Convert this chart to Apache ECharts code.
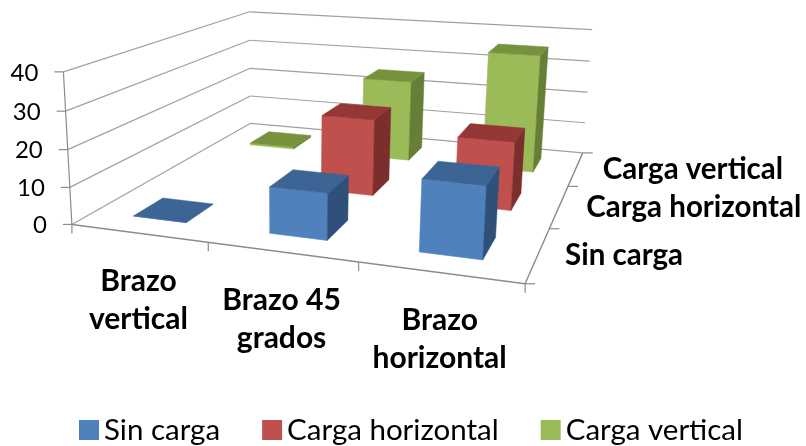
<!DOCTYPE html>
<html><head><meta charset="utf-8">
<style>html,body{margin:0;padding:0;background:#fff}#c{width:806px;height:446px}</style>
<script src="https://cdn.jsdelivr.net/npm/echarts@6/dist/echarts.min.js"></script>
</head><body><div id="c"></div>
<script>
const categories = ['Brazo\nvertical', 'Brazo 45\ngrados', 'Brazo\nhorizontal'];
const seriesNames = ['Sin carga', 'Carga horizontal', 'Carga vertical'];
const sinCarga = [0.1, 12.2, 18.3];
const cargaHorizontal = [null, 21.8, 19];
const cargaVertical = [0.6, 25, 35.6];
const yTicks = [0, 10, 20, 30, 40];
const yMax = 40;

// camera: fitted from reference anchor points [u, t, h, px, py]
const anchors = [[0,0,0,73,224],[1,0,0,525,283],[1,1,0,583,153],[0,1,0,250,123],
  [0,0,1,63,71],[0,1,1,250,12],[1,1,1,592,30],
  [1,1/3,0,549.5,228],[1,2/3,0,568,186],[1/3,0,0,208,244],[2/3,0,0,358,263]];
function fitCamera() {
  const rows = [], rhs = [];
  anchors.forEach(([u,t,h,x,y]) => {
    const X = x/100, Y = y/100;
    rows.push([u,t,h,1,0,0,0,0,-X*u,-X*t,-X*h]); rhs.push(X);
    rows.push([0,0,0,0,u,t,h,1,-Y*u,-Y*t,-Y*h]); rhs.push(Y);
  });
  const n = 11, A = [];
  for (let i=0;i<n;i++){ A.push(new Array(n+1).fill(0));
    for (let j=0;j<n;j++) rows.forEach(r=>{A[i][j]+=r[i]*r[j];});
    rows.forEach((r,k)=>{A[i][n]+=r[i]*rhs[k];}); }
  for (let i=0;i<n;i++){ let p=i; for(let k=i+1;k<n;k++) if(Math.abs(A[k][i])>Math.abs(A[p][i])) p=k;
    [A[i],A[p]]=[A[p],A[i]];
    for(let k=0;k<n;k++){ if(k===i) continue; const f=A[k][i]/A[i][i]; for(let j=i;j<=n;j++) A[k][j]-=f*A[i][j]; } }
  return A.map((r,i)=>r[n]/r[i]);
}
const m = fitCamera();
function project(u,t,h){
  const w = m[8]*u+m[9]*t+m[10]*h+1;
  return [100*(m[0]*u+m[1]*t+m[2]*h+m[3])/w, 100*(m[4]*u+m[5]*t+m[6]*h+m[7])/w];
}
const FONT = 'Lato';
const gridCol = '#a0a0a0', axisCol = '#8c8c8c';
const palette = [
  {front:'#4f81bd', top:'#3c6494', side:'#2f5179'},
  {front:'#c0504d', top:'#943735', side:'#7b2e2c'},
  {front:'#9bbb59', top:'#76923c', side:'#667f36'}
];
const barU = 0.066, barT = 0.07;
const lineEl = (a,b,col,w) => ({type:'line',shape:{x1:a[0],y1:a[1],x2:b[0],y2:b[1]},style:{stroke:col,lineWidth:w||1.2,fill:null}});
const poly = (pts,col) => ({type:'polygon',shape:{points:pts},style:{fill:col,stroke:col,lineWidth:0.5}});
const txt = (x,y,s,size,weight,align) => ({type:'text',style:{x,y,text:s,fill:'#000',font:`${weight} ${size}px ${FONT}`,textAlign:align,textVerticalAlign:'middle'}});

function renderAxes(params, api){
  const ch = [];
  yTicks.forEach(v=>{
    const h = v/yMax;
    ch.push(lineEl(project(0,0,h),project(0,1,h),gridCol));
    ch.push(lineEl(project(0,1,h),project(1,1,h),gridCol));
    const p = project(0,0,h);
    ch.push(lineEl([p[0]-9,p[1]],p,axisCol));
    ch.push(txt(p[0]-25,p[1]+1,String(v),24,'normal','right'));
  });
  ch.push(lineEl(project(0,0,0),project(0,0,1),axisCol));
  ch.push(lineEl(project(0,0,0),project(1,0,0),axisCol,1.4));
  ch.push(lineEl(project(1,0,0),project(1,1,0),axisCol,1.4));
  for(let i=0;i<=categories.length;i++){
    const p = project(i/categories.length,0,0);
    ch.push(lineEl(p,[p[0],p[1]+9],axisCol));
  }
  for(let i=0;i<=seriesNames.length;i++){
    const p = project(1,i/seriesNames.length,0);
    ch.push(lineEl(p,[p[0]+10,p[1]],axisCol));
  }
  categories.forEach((c,i)=>{
    const p = project((i+.5)/categories.length,0,0);
    const lines = c.split('\n');
    lines.forEach((l,k)=>ch.push(txt(p[0],p[1]+48+k*38,l,30,'bold','center')));
  });
  seriesNames.forEach((s,i)=>{
    const p = project(1,(i+.5)/seriesNames.length,0);
    ch.push(txt(p[0]+27,p[1]+1,s,29.5,'bold','left'));
  });
  return {type:'group',children:ch};
}
function renderBar(params, api){
  const val = api.value(1);
  if (val==null || isNaN(val)) return null;
  const W = api.getWidth(), H = api.getHeight();
  const c = api.coord([api.value(0), val]);
  const u = c[0]/W, h = 1-c[1]/H;
  const idx = seriesNames.indexOf(params.seriesName);
  const t = (idx+.5)/seriesNames.length;
  const u0=u-barU, u1=u+barU, t0=t-barT, t1=t+barT;
  const col = palette[idx];
  return {type:'group',children:[
    poly([project(u0,t0,0),project(u1,t0,0),project(u1,t0,h),project(u0,t0,h)],col.front),
    poly([project(u1,t0,0),project(u1,t1,0),project(u1,t1,h),project(u1,t0,h)],col.side),
    poly([project(u0,t0,h),project(u1,t0,h),project(u1,t1,h),project(u0,t1,h)],col.top)
  ]};
}
const values = [sinCarga, cargaHorizontal, cargaVertical];
const barSeries = seriesNames.map((name,i)=>({
  name, type:'custom', coordinateSystem:'cartesian2d', renderItem:renderBar,
  z:4-i, clip:false, silent:true, encode:{x:0,y:1},
  itemStyle:{color:palette[i].front},
  data: values[i].map((v,k)=>[k, v==null?'-':v])
}));
const chart = echarts.init(document.getElementById('c'),null,{renderer:'canvas'});
chart.setOption({
  animation:false, backgroundColor:'#fff',
  grid:{left:0,right:0,top:0,bottom:0},
  xAxis:{type:'category',show:false,data:categories},
  yAxis:{type:'value',show:false,min:0,max:yMax},
  legend:{data:seriesNames,left:74,top:410,icon:'rect',itemWidth:20,itemHeight:20,itemGap:42,selectedMode:false,
    textStyle:{fontFamily:FONT,fontSize:29.5,color:'#000'}},
  series:[{name:'ejes',type:'custom',coordinateSystem:'cartesian2d',renderItem:renderAxes,z:1,clip:false,silent:true,
    encode:{x:0,y:1},data:[[0,0]]}].concat(barSeries)
});
</script></body></html>
